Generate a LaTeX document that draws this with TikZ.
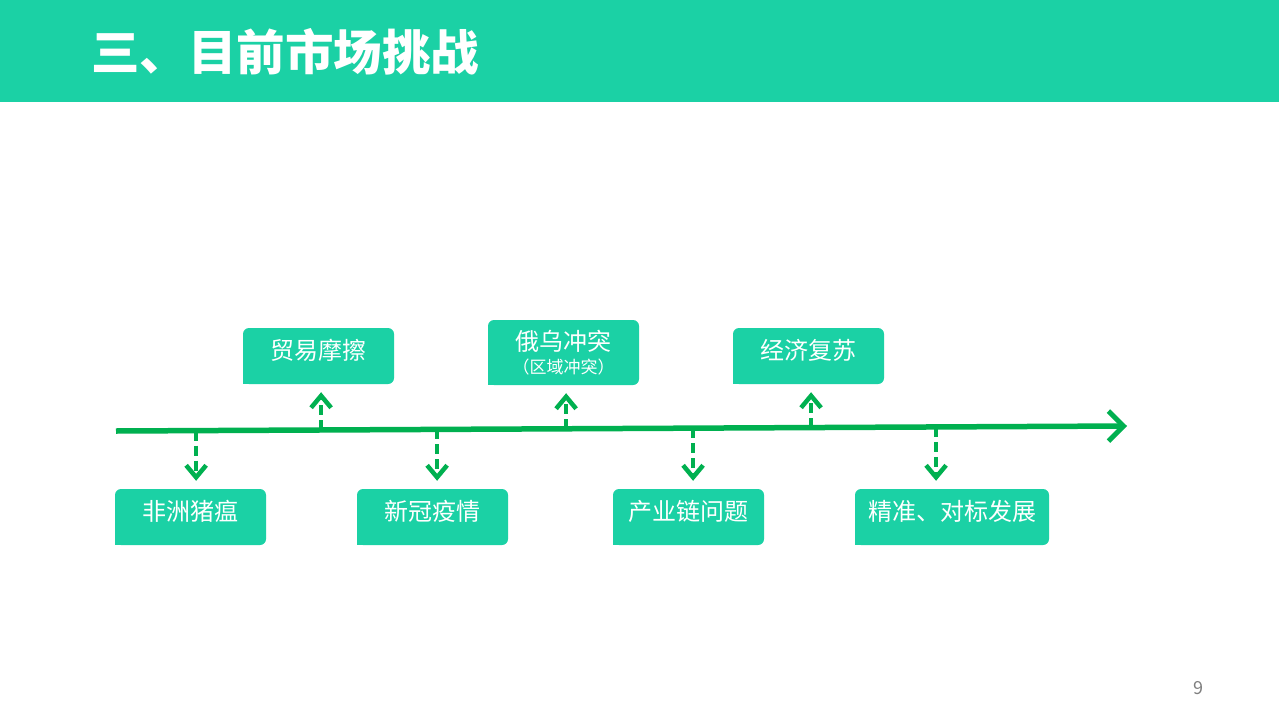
\documentclass[tikz,border=0pt]{standalone}
\usepackage{fontspec}
\usepackage{tikz}
\usetikzlibrary{arrows.meta, positioning, calc}
\newfontfamily\cjk{Noto Sans CJK SC}
\definecolor{mkTeal}{HTML}{1BD1A5}
\definecolor{mkGreen}{HTML}{00B050}
\definecolor{mkGray}{HTML}{7F7F7F}

\begin{document}
\begin{tikzpicture}[
  x=1pt, y=-1pt,
  evtbase/.style={fill=mkTeal, rounded corners=6pt, minimum width=151pt,
                  minimum height=56pt, inner sep=0pt, text=white, align=center},
  evt/.style={evtbase, font=\cjk\fontsize{24}{27}\selectfont,
              text height=19pt, text depth=13pt},
  mainarr/.style={draw=mkGreen, line width=5.5pt,
                  -{Straight Barb[length=15pt, width=30pt, line width=5pt]}},
  dasharr/.style={draw=mkGreen, line width=4pt, dash pattern=on 10pt off 5pt,
                  shorten >=8pt,
                  -{Straight Barb[length=12pt, width=20pt, line width=4.5pt]}},
]
\useasboundingbox (0,0) rectangle (1279,720);
\fill[white] (0,0) rectangle (1279,720);

% header
\fill[mkTeal] (0,0) rectangle (1279,102);
\node[anchor=west, text=white, inner sep=0pt,
      font=\cjk\bfseries\fontsize{48.5}{52}\selectfont] (title) at (91,52) {三、目前市场挑战};

% time line
\coordinate (lineL) at (116,431);
\coordinate (lineR) at (1127,426);
\draw[mainarr] (lineL) -- (lineR);

% events above the line
\node[evt] (trade) at (318.5,356) {贸易摩擦};
\node[evtbase, minimum height=65pt] (war) at (563.5,352.5)
  {{\cjk\fontsize{24}{27}\selectfont 俄乌冲突}\\[5pt]{\cjk\fontsize{17}{19}\selectfont （区域冲突）}};
\node[evt] (econ) at (808.5,356) {经济复苏};

% events below the line
\node[evt] (swine) at (190.5,517) {非洲猪瘟};
\node[evt] (covid) at (432.5,517) {新冠疫情};
\node[evt] (chain) at (688.5,517) {产业链问题};
\node[evt, minimum width=194pt] (aim) at (952,517) {精准、对标发展};

% square lower left corners
\foreach \n in {trade,war,econ,swine,covid,chain,aim}
  \fill[mkTeal] (\n.south west) rectangle ++(8,-8);

% points on the line
\coordinate (p1) at ($(lineL)!(194,0)!(lineR)$);
\coordinate (p2) at ($(lineL)!(319,0)!(lineR)$);
\coordinate (p3) at ($(lineL)!(435,0)!(lineR)$);
\coordinate (p4) at ($(lineL)!(564,0)!(lineR)$);
\coordinate (p5) at ($(lineL)!(691,0)!(lineR)$);
\coordinate (p6) at ($(lineL)!(809,0)!(lineR)$);
\coordinate (p7) at ($(lineL)!(934,0)!(lineR)$);

\draw[dasharr] (p1) -- (p1 |- swine.north);
\draw[dasharr] (p2) -- (p2 |- trade.south);
\draw[dasharr] (p3) -- (p3 |- covid.north);
\draw[dasharr] (p4) -- (p4 |- war.south);
\draw[dasharr] (p5) -- (p5 |- chain.north);
\draw[dasharr] (p6) -- (p6 |- econ.south);
\draw[dasharr] (p7) -- (p7 |- aim.north);

% page number
\node[text=mkGray, font=\cjk\fontsize{18}{20}\selectfont] (page) at (1198,688) {9};
\end{tikzpicture}
\end{document}
